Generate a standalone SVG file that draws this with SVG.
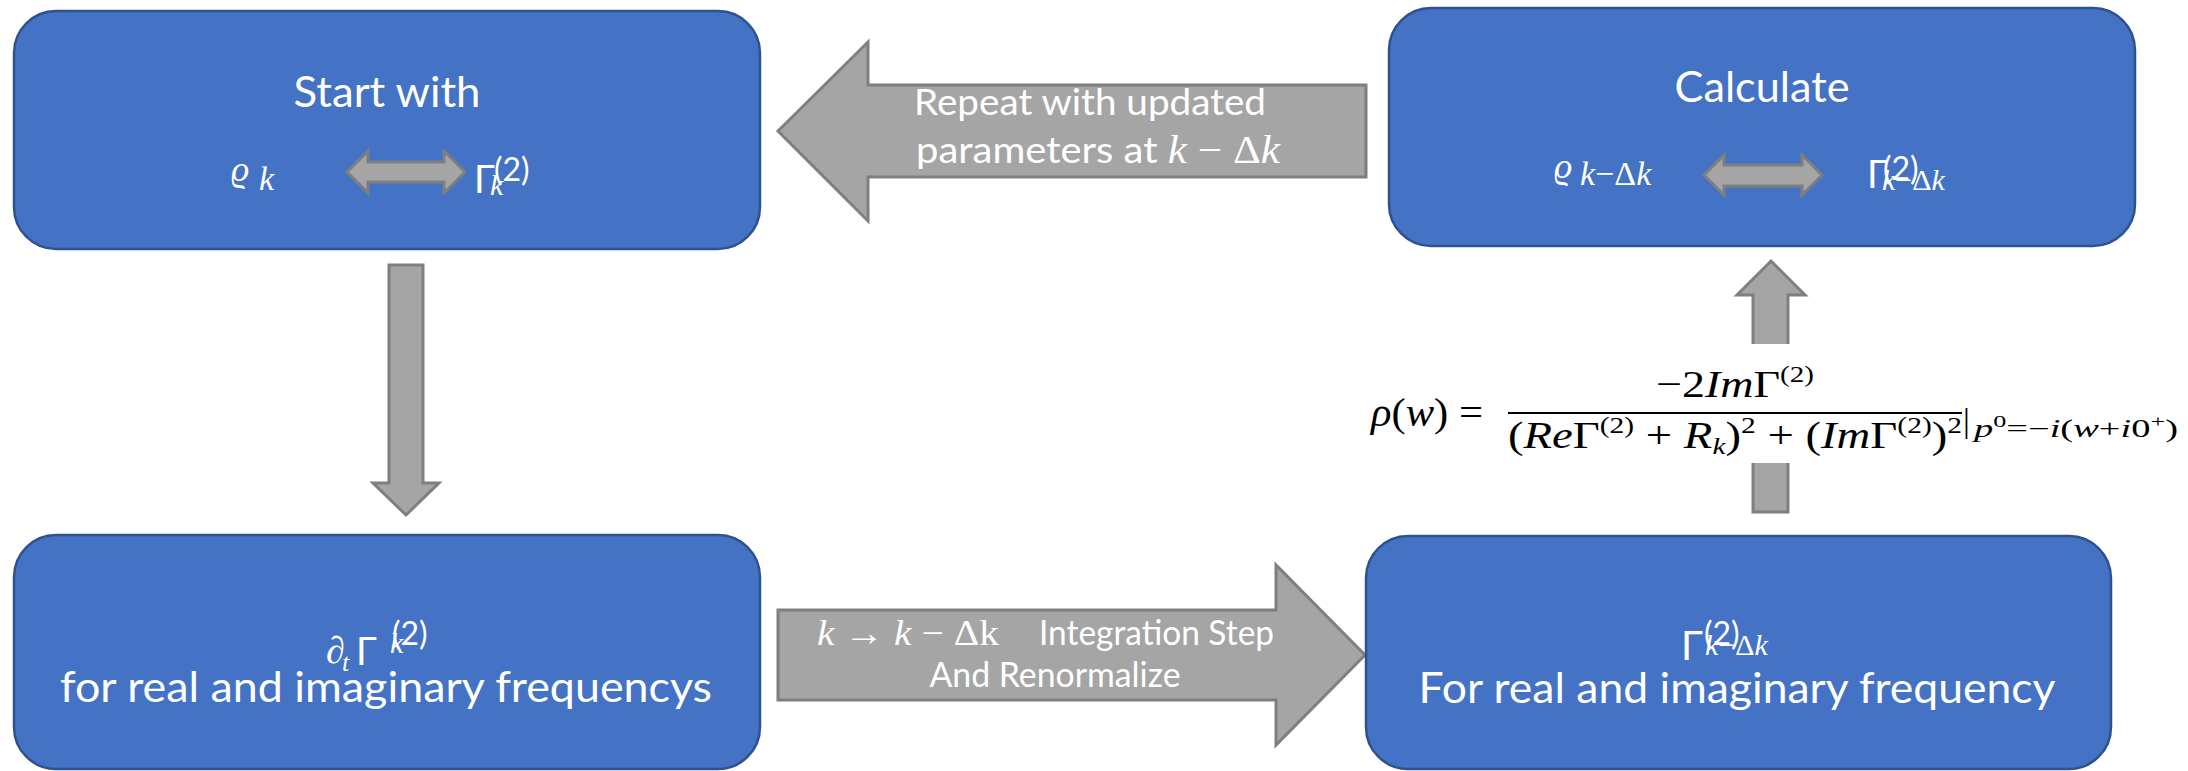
<svg xmlns="http://www.w3.org/2000/svg" width="2188" height="771" viewBox="0 0 2188 771">
<style>
.box{fill:#4472C4;stroke:#2F528F;stroke-width:2.5}
.arr{fill:#A5A5A5;stroke:#7F7F7F;stroke-width:3;stroke-linejoin:miter}
.t{font-family:Lato,"Liberation Sans",sans-serif;fill:#fff}
.m{font-family:"Liberation Serif","DejaVu Serif",serif;fill:#fff;font-style:italic}
.up{font-style:normal}
.f{font-family:"Liberation Serif","DejaVu Serif",serif;fill:#000}
.fi{font-style:italic}
</style>
<rect width="2188" height="771" fill="#fff"/>
<g id="connectors">
  <polygon id="arrow-repeat" class="arr" points="778,131 868,42 868,85 1366,85 1366,177 868,177 868,221"/>
  <polygon id="arrow-down" class="arr" points="389,265 423,265 423,483 439,483 406,515 373,483 389,483"/>
  <polygon id="arrow-step" class="arr" points="778,610 1276,610 1276,565 1365,655 1276,745 1276,700 778,700"/>
  <polygon id="arrow-up" class="arr" points="1771,261 1805,295 1788,295 1788,512 1753,512 1753,295 1737,295"/>
  <text class="t" x="1090" y="115" font-size="36" text-anchor="middle" textLength="352" lengthAdjust="spacingAndGlyphs">Repeat with updated</text>
  <text class="t" x="916" y="163" font-size="37" textLength="364" lengthAdjust="spacingAndGlyphs">parameters at <tspan class="m" font-size="40">k</tspan><tspan class="m up" font-size="40"> − Δ</tspan><tspan class="m" font-size="40">k</tspan></text>
  <text class="m" x="817" y="645" font-size="36" textLength="182" lengthAdjust="spacingAndGlyphs">k<tspan class="up"> → </tspan>k<tspan class="up"> − Δk</tspan></text>
  <text class="t" x="1039" y="645" font-size="34" textLength="235" lengthAdjust="spacingAndGlyphs">Integration Step</text>
  <text class="t" x="1055" y="687" font-size="34" text-anchor="middle" textLength="251" lengthAdjust="spacingAndGlyphs">And Renormalize</text>
</g>
<g id="formula">
  <rect x="1368" y="344" width="818" height="119" fill="#fff"/>
  <text class="f" x="1371" y="426" font-size="40" textLength="112" lengthAdjust="spacingAndGlyphs"><tspan class="fi">ρ</tspan>(<tspan class="fi">w</tspan>) =</text>
  <text class="f" x="1656" y="397" font-size="38" textLength="158" lengthAdjust="spacingAndGlyphs">−2<tspan class="fi">Im</tspan>Γ<tspan font-size="24" dy="-15">(2)</tspan></text>
  <line x1="1508" y1="413" x2="1962" y2="413" stroke="#000" stroke-width="2"/>
  <text class="f" x="1508" y="448" font-size="38" textLength="454" lengthAdjust="spacingAndGlyphs">(<tspan class="fi">Re</tspan>Γ<tspan font-size="24" dy="-15">(2)</tspan><tspan dy="15"> + </tspan><tspan class="fi">R</tspan><tspan class="fi" font-size="24" dy="6">k</tspan><tspan dy="-6">)</tspan><tspan font-size="24" dy="-15">2</tspan><tspan dy="15"> + (</tspan><tspan class="fi">Im</tspan>Γ<tspan font-size="24" dy="-15">(2)</tspan><tspan dy="15">)</tspan><tspan font-size="24" dy="-15">2</tspan></text>
  <text class="f" x="1963" y="432" font-size="34">|</text>
  <text class="f" x="1974" y="437" font-size="25" textLength="204" lengthAdjust="spacingAndGlyphs"><tspan class="fi">p</tspan><tspan font-size="17" dy="-10">0</tspan><tspan dy="10">=−</tspan><tspan class="fi">i</tspan>(<tspan class="fi">w</tspan>+<tspan class="fi">i</tspan>0<tspan font-size="17" dy="-10">+</tspan><tspan dy="10">)</tspan></text>
</g>
<g id="node-start">
  <rect class="box" x="14" y="11" width="746" height="238" rx="42"/>
  <text class="t" x="387" y="107" font-size="42" text-anchor="middle" textLength="187" lengthAdjust="spacingAndGlyphs">Start with</text>
  <text class="m" x="231" y="181" font-size="36">ϱ</text>
  <text class="m" x="259" y="190" font-size="34">k</text>
  <polygon class="arr" points="347,172 368,151 368,162 444,162 444,151 465,172 444,193 444,182 368,182 368,193"/>
  <text class="t" x="474" y="193" font-size="38">Γ</text>
  <text class="t" x="494" y="181" font-size="32">(2)</text>
  <text class="m" x="490" y="195" font-size="30">k</text>
</g>
<g id="node-calculate">
  <rect class="box" x="1389" y="8" width="746" height="238" rx="42"/>
  <text class="t" x="1762" y="102" font-size="42" text-anchor="middle" textLength="175" lengthAdjust="spacingAndGlyphs">Calculate</text>
  <text class="m" x="1554" y="178" font-size="36">ϱ</text>
  <text class="m" x="1580" y="185" font-size="34">k<tspan class="up">−Δ</tspan>k</text>
  <polygon class="arr" points="1704,175 1724,155 1724,165 1802,165 1802,155 1822,175 1802,195 1802,186 1724,186 1724,195"/>
  <text class="t" x="1867" y="188" font-size="38">Γ</text>
  <text class="t" x="1883" y="180" font-size="32">(2)</text>
  <text class="m" x="1882" y="190" font-size="30">k<tspan class="up">−Δ</tspan>k</text>
</g>
<g id="node-derivative">
  <rect class="box" x="14" y="535" width="746" height="234" rx="42"/>
  <text class="m" x="326" y="663" font-size="38">∂</text>
  <text class="m" x="342" y="671" font-size="26">t</text>
  <text class="t" x="356" y="665" font-size="38">Γ</text>
  <text class="t" x="392" y="645" font-size="32">(2)</text>
  <text class="m" x="390" y="653" font-size="30">k</text>
  <text class="t" x="386" y="702" font-size="42" text-anchor="middle" textLength="652" lengthAdjust="spacingAndGlyphs">for real and imaginary frequencys</text>
</g>
<g id="node-result">
  <rect class="box" x="1366" y="536" width="745" height="233" rx="42"/>
  <text class="t" x="1681" y="660" font-size="40">Γ</text>
  <text class="t" x="1704" y="645" font-size="32">(2)</text>
  <text class="m" x="1705" y="655" font-size="30">k<tspan class="up">−Δ</tspan>k</text>
  <text class="t" x="1737" y="703" font-size="42" text-anchor="middle" textLength="637" lengthAdjust="spacingAndGlyphs">For real and imaginary frequency</text>
</g>
</svg>
